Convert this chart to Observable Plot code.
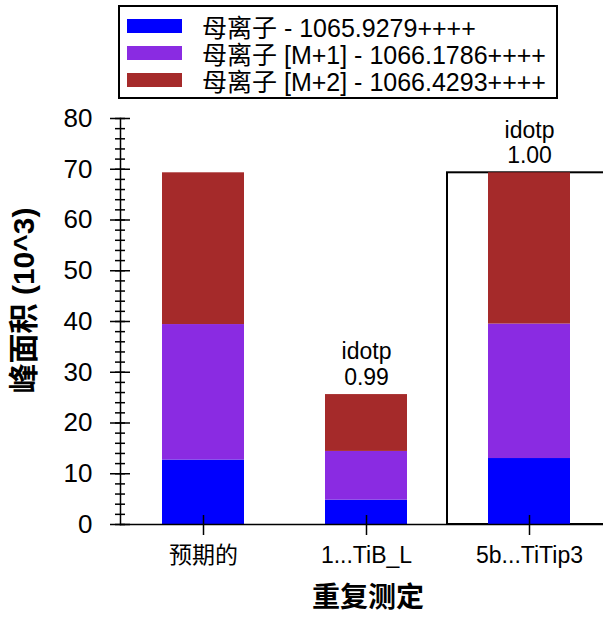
<!DOCTYPE html>
<html>
<head>
<meta charset="utf-8">
<script src="https://cdn.jsdelivr.net/npm/d3@7"></script>
<script src="https://cdn.jsdelivr.net/npm/@observablehq/plot@0.6"></script>
<style>
  html, body { margin: 0; padding: 0; background: #fff; overflow: hidden; }
  body { width: 603px; height: 618px; font-family: "Liberation Sans", Arial, "Noto Sans CJK SC", sans-serif; }
  #legend { position: relative; width: 603px; height: 105px; }
  #legendBox { position: absolute; left: 118px; top: 5px; width: 436px; height: 90px; border: 2px solid #000; }
  .row { position: absolute; left: 0; height: 27px; display: flex; align-items: center; font-size: 25px; color: #000; white-space: nowrap; }
  .sw { width: 55px; height: 14px; margin-left: 7px; margin-right: 20px; }
  g[aria-label="xtitle"] text { letter-spacing: 7px; }
</style>
</head>
<body>
<div id="legend"><div id="legendBox"></div></div>
<div id="chart"></div>
<script>
// ---- data ----
const categories = ["预期的", "1...TiB_L", "5b...TiTip3"];
const seriesNames = ["母离子 - 1065.9279++++", "母离子 [M+1] - 1066.1786++++", "母离子 [M+2] - 1066.4293++++"];
const seriesColors = ["#0000FF", "#8A2BE2", "#A52A2A"];
const monoValues = [12.7, 4.8, 13.0];
const m1Values = [26.7, 9.6, 26.5];
const m2Values = [29.9, 11.2, 29.8];
const idotpLabels = [null, "0.99", "1.00"];
const selectedCategory = "5b...TiTip3";
const yTicks = [0, 10, 20, 30, 40, 50, 60, 70, 80];
const yMinorTicks = d3.range(0, 81, 2);
const yTitle = "峰面积 (10^3)";
const xTitle = "重复测定";

// ---- build table ----
const seriesValues = [monoValues, m1Values, m2Values];
const rows = [];
seriesNames.forEach((s, si) => categories.forEach((c, ci) => rows.push({category: c, series: s, value: seriesValues[si][ci]})));
const totals = categories.map((c, ci) => ({category: c, total: seriesValues.reduce((a, v) => a + v[ci], 0), idotp: idotpLabels[ci]}));
const labelRows = totals.filter(d => d.idotp != null);
const selectedRows = totals.filter(d => d.category === selectedCategory);

// ---- legend ----
const box = document.getElementById("legendBox");
seriesNames.forEach((s, i) => {
  const r = document.createElement("div");
  r.className = "row";
  r.style.top = (5 + i * 27) + "px";
  const sw = document.createElement("div");
  sw.className = "sw";
  sw.style.background = seriesColors[i];
  const t = document.createElement("span");
  t.textContent = s;
  r.appendChild(sw); r.appendChild(t);
  box.appendChild(r);
});

// ---- chart ----
const font = "'Liberation Sans', Arial, 'Noto Sans CJK SC', sans-serif";
const chart = Plot.plot({
  width: 603,
  height: 513,
  marginTop: 13,
  marginBottom: 94,
  marginLeft: 120,
  marginRight: 0,
  style: {fontFamily: font, color: "#000", background: "#fff", overflow: "visible"},
  x: {domain: categories, paddingInner: 0.5, paddingOuter: 0.225, align: 0.55, label: null},
  y: {domain: [0, 80], label: null},
  color: {domain: seriesNames, range: seriesColors},
  marks: [
    Plot.rectY(selectedRows, {x: "category", y1: 0, y2: "total", fill: "none", stroke: "#000", strokeWidth: 2, insetLeft: -41, insetRight: -41}),
    Plot.barY(rows, {x: "category", y: "value", fill: "series", order: null}),
    Plot.text(labelRows, {x: "category", y: "total", text: d => "idotp\n" + d.idotp, lineAnchor: "bottom", dy: -10, fontSize: 23, lineHeight: 1.1, fill: "#000"}),
    Plot.frame({anchor: "left", stroke: "#000", strokeWidth: 1.5}),
    Plot.frame({anchor: "bottom", stroke: "#000", strokeWidth: 1.5}),
    Plot.axisY({ticks: yMinorTicks, tickSize: 10, dx: 5, fill: "none", stroke: "#000", strokeWidth: 1.5, label: null, tickFormat: () => ""}),
    Plot.axisY({ticks: yTicks, tickSize: 20, dx: 10, fill: "none", stroke: "#000", strokeWidth: 1.5, label: null, tickFormat: () => ""}),
    Plot.axisY({ticks: yTicks, tickSize: 0, tickPadding: 28, fontSize: 26, fill: "#000", label: null}),
    Plot.axisX({tickSize: 20, dy: -9, fill: "none", stroke: "#000", strokeWidth: 1.5, label: null, tickFormat: () => ""}),
    Plot.axisX({tickSize: 0, tickPadding: 22, fontSize: 23, fill: "#000", label: null}),
    Plot.text([yTitle], {frameAnchor: "left", textAnchor: "middle", rotate: -90, dx: -96, dy: -21, fontSize: 30, fontWeight: "bold", fill: "#000"}),
    Plot.text([xTitle], {frameAnchor: "bottom", dy: 82, dx: 6, fontSize: 28, fontWeight: "bold", fill: "#000", ariaLabel: "xtitle"})
  ]
});
document.getElementById("chart").appendChild(chart);
</script>
</body>
</html>
